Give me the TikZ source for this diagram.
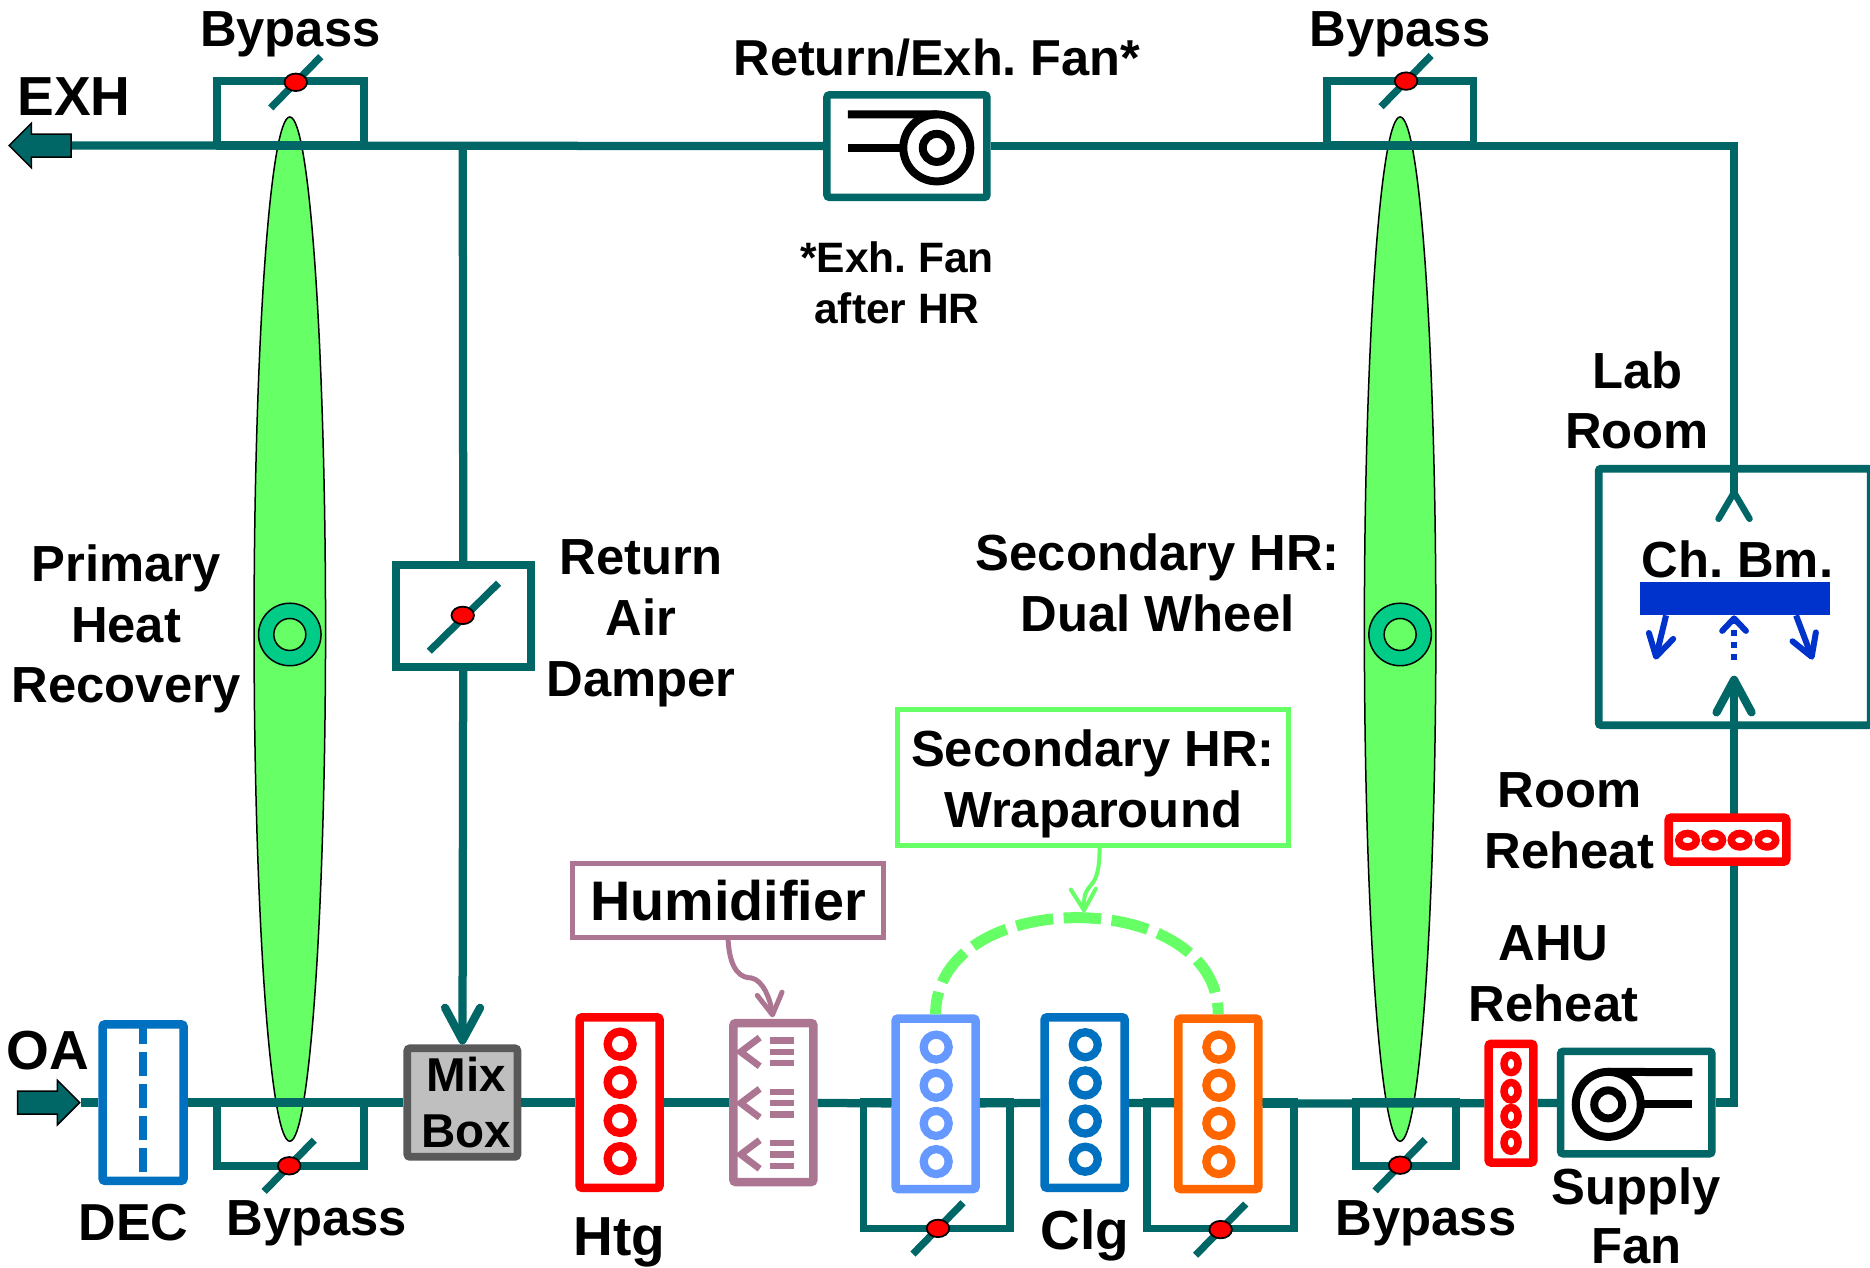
\documentclass[tikz,border=0pt]{standalone}
\usepackage{xcolor}
\usepackage{fontspec}
\setmainfont{Liberation Sans}
\usepackage{tikz}
\usetikzlibrary{shapes,arrows.meta,positioning}

\definecolor{ductteal}{HTML}{006666}
\definecolor{hrgreen}{HTML}{66FF66}
\definecolor{wheelgreen}{HTML}{00CC88}
\definecolor{coilblue}{HTML}{0070C0}
\definecolor{coillight}{HTML}{6699FF}
\definecolor{coilorange}{HTML}{FF6600}
\definecolor{humid}{HTML}{AC7592}
\definecolor{beamblue}{HTML}{0033CC}
\frenchspacing

\begin{document}
\begin{tikzpicture}[
    x=0.477pt, y=-0.477pt,
    barb/.tip={Straight Barb[round, length=13pt, width=14pt]},
    smallbarb/.tip={Straight Barb[round, length=8.5pt, width=10pt]},
    tag/.style={font=\bfseries\fontsize{20.3}{24.3}\selectfont, align=center, inner sep=0pt},
    duct/.style={draw=ductteal, line width=3.3pt},
    wing/.style={draw=ductteal, line width=2.6pt, line cap=round},
    flow/.style={single arrow, draw=black, fill=ductteal, line width=0.6pt, inner sep=4.3pt, minimum height=24.8pt, minimum width=17.2pt, single arrow head extend=4.3pt, single arrow tip angle=90, single arrow head indent=0pt},
    wheelhr/.style={ellipse, draw=black, fill=hrgreen, line width=0.6pt, inner sep=0pt, minimum width=28.6pt, minimum height=409.7pt},
    hub/.style={circle, draw=black, line width=0.6pt, inner sep=0pt},
    bypass/.style={rectangle, draw=ductteal, line width=3.1pt, inner sep=0pt, minimum width=58.7pt, minimum height=25.6pt},
    coil/.style={rectangle, draw, fill=white, line width=3.4pt, rounded corners=1pt, inner sep=0pt, minimum width=32pt, minimum height=68.2pt},
    fanbox/.style={rectangle, draw=ductteal, fill=white, line width=3pt, rounded corners=1pt, inner sep=0pt, minimum width=60.5pt, minimum height=41pt},
    wheel/.style={circle, draw=black, line width=3.2pt, inner sep=0pt, outer sep=0pt},
    fanbar/.style={draw=black, line width=3.2pt},
    valve/.style={ellipse, draw=black, fill=red, line width=0.7pt, inner sep=0pt, minimum width=9pt, minimum height=7pt},
    arm/.style={draw=ductteal, line width=2.9pt},
    callbox/.style={rectangle, draw, fill=white, line width=2pt, inner sep=0pt}
]
    \useasboundingbox (0,0) rectangle (1568,1062.4);

    % --- Heat recovery wheels (under the ducts) ---
    \node [wheelhr] (hr_left) at (243,527.5) {};
    \node [hub, fill=wheelgreen, minimum size=25pt] (hub_left) at (243,532) {};
    \node [hub, fill=hrgreen, minimum size=12.8pt] at (hub_left.center) {};
    \node [wheelhr] (hr_right) at (1174,527.5) {};
    \node [hub, fill=wheelgreen, minimum size=25pt] (hub_right) at (1174,532) {};
    \node [hub, fill=hrgreen, minimum size=12.8pt] at (hub_right.center) {};

    % --- Bypass loops ---
    \node [bypass] (byp_tl) at (243.5,95) {};
    \node [bypass] (byp_tr) at (1174,95) {};
    \node [bypass] (byp_bl) at (243.5,951) {};
    \node [bypass, minimum width=40pt] (byp_br) at (1179,951) {};
    \node [bypass, minimum height=50.6pt] (byp_pre) at (785.5,977) {};
    \node [bypass, minimum height=50.6pt] (byp_post) at (1023.5,977) {};

    % --- Supply side, left to right ---
    \node [flow] (oa_arrow) at (36,924.5) {};
    \node [coil, draw=coilblue, minimum width=32.4pt, minimum height=62.6pt] (dec) at (120,924.5) {};
    \node [coil, draw=black!65, fill=black!25, line width=3.1pt, minimum width=44pt, minimum height=43.4pt] (mix) at (387.7,924.5) {};
    \node [coil, draw=red] (htg) at (519.5,924.5) {};
    \node [coil, draw=humid, minimum height=63.6pt] (hum) at (648.5,924.5) {};
    \node [coil, draw=coillight] (coil_pre) at (784.5,925.5) {};
    \node [coil, draw=coilblue] (clg) at (909.5,924.5) {};
    \node [coil, draw=coilorange] (coil_post) at (1021.5,925.5) {};
    \node [coil, draw=red, minimum width=17.9pt, minimum height=47.5pt] (ahu_rh) at (1267,925) {};
    \node [fanbox] (supply) at (1372,924.5) {};
    \node [wheel, minimum size=26pt] (supply_wheel) at (1348.5,926) {};
    \node [wheel, minimum size=11.2pt] at (supply_wheel.center) {};

    % --- Return side ---
    \node [flow, shape border rotate=180] (exh_arrow) at (38.5,122) {};
    \node [fanbox, minimum width=64pt] (return_fan) at (760.5,122.5) {};
    \node [wheel, minimum size=26.8pt] (return_wheel) at (785.5,124) {};
    \node [wheel, minimum size=11.2pt] at (return_wheel.center) {};
    \node [bypass, fill=white, minimum width=54pt, minimum height=41pt] (return_damper) at (388.5,516.5) {};

    % --- Lab room ---
    \node [rectangle, draw=ductteal, line width=3.1pt, inner sep=0pt, minimum width=108.8pt, minimum height=102.6pt, rounded corners=1pt] (lab) at (1454.5,500.5) {};
    \node [rectangle, fill=beamblue, inner sep=0pt, minimum width=76.2pt, minimum height=13.4pt] (beam) at (1454.7,502) {};
    \coordinate (lab_in) at (1454,566.6);
    \coordinate (lab_out) at (1454,413);
    \coordinate (lab_out_l) at (1441,435);
    \coordinate (lab_out_r) at (1467,435);
    \coordinate (mix_tap) at (388,122);
    \coordinate (beam_l) at (1397,516);
    \coordinate (beam_r) at (1506,516);
    \coordinate (beam_m) at (1454,516);
    \coordinate (spot_l) at (1388,553);
    \coordinate (spot_r) at (1520,553);
    \coordinate (spot_m) at (1454,553);

    % Paths
    \path [duct] (oa_arrow) -- (dec);
    \path [duct] (dec) -- (mix);
    \path [duct] (mix) -- (htg);
    \path [duct] (htg) -- (hum);
    \path [duct] (hum) -- (coil_pre);
    \path [duct] (coil_pre) -- (clg);
    \path [duct] (clg) -- (coil_post);
    \path [duct] (coil_post) -- (ahu_rh);
    \path [duct] (ahu_rh) -- (supply);
    \path [duct, -{barb}] (supply) -| (lab_in);
    \path [duct] (return_fan) -| (lab_out);
    \path [wing] (lab_out_l) -- (lab_out) -- (lab_out_r);
    \path [duct] (return_fan) -- (exh_arrow);
    \path [duct] (mix_tap) -- (return_damper);
    \path [duct, -{barb}] (return_damper) -- (mix);
    \path [draw=beamblue, line width=2.4pt, -{smallbarb}] (beam_l) -- (spot_l);
    \path [draw=beamblue, line width=2.4pt, -{smallbarb}] (beam_r) -- (spot_r);
    \path [draw=beamblue, line width=2.4pt, dash pattern=on 2.4pt off 2.4pt, -{Straight Barb[round, length=5pt, width=9.5pt]}] (spot_m) -- (beam_m);
    \node [coil, draw=red, minimum width=47pt, minimum height=17.6pt] (room_rh) at (1448.5,704) {};

    % Coil tubes
    \foreach \x/\y/\c in {520/875.5/red, 785/878/coillight, 910/876/coilblue, 1022/878/coilorange} {
        \foreach \k in {0,1,2,3}
            \draw [line width=3.3pt, draw=\c] (\x,\y+32*\k) circle (5pt);
    }
    \foreach \y in {892,915,936,958}
        \draw [line width=3pt, draw=red] (1267,\y) ellipse (2.8pt and 3.5pt);
    \foreach \x in {1415,1437,1459,1481.6}
        \draw [line width=3pt, draw=red] (\x,704.5) ellipse (3.5pt and 2.7pt);

    % Humidifier nozzles
    \foreach \y in {882,925,968} {
        \draw [draw=humid, line width=2.7pt] (637,\y-12) -- (621,\y) -- (637,\y+12);
        \foreach \d in {-9.5,0,9.5}
            \draw [draw=humid, line width=2.6pt] (645.5,\y+\d) -- (666,\y+\d);
    }

    % DEC pad
    \coordinate (dec_end) at (120,984.4);
    \path [draw=coilblue, line width=3.2pt, dash pattern=on 9.6pt off 3.2pt] (dec.north) -- (dec_end);

    % Fan blades
    \coordinate (return_top) at (711,96);
    \coordinate (return_low) at (711,124);
    \coordinate (supply_top) at (1419,899);
    \coordinate (supply_low) at (1419,926);
    \path [fanbar] (return_top) -- (return_wheel.north);
    \path [fanbar] (return_low) -- (return_wheel);
    \path [fanbar] (supply_top) -- (supply_wheel.north);
    \path [fanbar] (supply_low) -- (supply_wheel);

    % Dampers
    \path [arm] (360,546) -- (418,489);
    \node [valve] (valve_return) at (388,516) {};
    \foreach \x/\y in {248/69, 1179/68, 242.5/977.5, 1174/977, 786.5/1030, 1023.5/1031} {
        \path [arm] (\x-21,\y+21.5) -- (\x+21,\y-21.5);
        \node [valve] (valve_\x) at (\x,\y) {};
    }

    % Wraparound and humidifier callouts
    \node [callbox, draw=hrgreen, minimum width=156.5pt, minimum height=54.4pt] (wrap_box) at (916.5,652) {};
    \node [callbox, draw=humid, minimum width=124.5pt, minimum height=29.6pt, font=\bfseries\fontsize{22.3}{26}\selectfont] (hum_box) at (610.5,755) {Humidifier};
    \coordinate (wrap_tip) at (909,765);
    \coordinate (hum_tip) at (648,853);
    \coordinate (wrap_from) at (922,711);
    \coordinate (hum_from) at (610.5,788);
    \coordinate (hum_mid) at (630,820);
    \path [draw=hrgreen, line width=4.4pt, dash pattern=on 15pt off 4.2pt, dash phase=6pt] (coil_pre.north) .. controls +(0,-108) and +(0,-108) .. (coil_post.north);
    \path [draw=hrgreen, line width=1.6pt, -{smallbarb}] (wrap_from) .. controls (922,752) and (908,735) .. (wrap_tip);
    \path [draw=humid, line width=2pt, -{smallbarb}] (hum_from) .. controls (612,815) and (622,820) .. (hum_mid) .. controls (640,822) and (646,838) .. (hum_tip);

    % Labels
    \node [tag, above=8pt of byp_tl] (lbl_byp_tl) {Bypass};
    \node [tag, above=8pt of byp_tr] (lbl_byp_tr) {Bypass};
    \node [tag, below=12pt of byp_bl, xshift=10.5pt] (lbl_byp_bl) {Bypass};
    \node [tag, below=12pt of byp_br, xshift=8pt] (lbl_byp_br) {Bypass};
    \node [tag, font=\bfseries\fontsize{22}{26}\selectfont] (lbl_exh) at (62,81) {EXH};
    \node [tag, font=\bfseries\fontsize{22}{26}\selectfont] (lbl_oa) at (40,881) {OA};
    \node [tag, font=\bfseries\fontsize{20.8}{25}\selectfont, below=7.6pt of dec, xshift=-3.8pt] (lbl_dec) {DEC};
    \node [tag, font=\bfseries\fontsize{22}{26}\selectfont, below=10pt of htg] (lbl_htg) {Htg};
    \node [tag, font=\bfseries\fontsize{22}{26}\selectfont, below=7pt of clg] (lbl_clg) {Clg};
    \node [tag, font=\bfseries\fontsize{20.3}{23.6}\selectfont, below=4pt of supply] (lbl_supply) {Supply\\Fan};
    \node [tag, font=\bfseries\fontsize{20.2}{25}\selectfont, above=5.5pt of return_fan, xshift=12pt] (lbl_return) {Return/Exh. Fan*};
    \node [tag, font=\bfseries\fontsize{17}{20.5}\selectfont, below=16pt of return_fan, xshift=-4pt] (lbl_note) {*Exh. Fan\\after HR};
    \node [tag, right=4.6pt of return_damper, yshift=-3pt] (lbl_damper) {Return\\Air\\Damper};
    \node [tag, left=5pt of hr_left] (lbl_primary) {Primary\\Heat\\Recovery};
    \node [tag, left=9.4pt of hr_right, yshift=18.4pt] (lbl_dual) {Secondary HR:\\Dual Wheel};
    \node [tag, above=6pt of lab, xshift=-39pt] (lbl_lab) {Lab\\Room};
    \node [tag, above=1pt of beam, xshift=1pt] (lbl_beam) {Ch. Bm.};
    \node [tag, left=4pt of room_rh, yshift=7.6pt] (lbl_room_rh) {Room\\Reheat};
    \node [tag, above=7pt of ahu_rh, xshift=17pt] (lbl_ahu_rh) {AHU\\Reheat};
    \node [tag, yshift=-2.5pt] (lbl_wrap) at (wrap_box.center) {Secondary HR:\\Wraparound};
    \node [tag, font=\bfseries\fontsize{19}{22.5}\selectfont, xshift=1.5pt] (lbl_mix) at (mix.center) {Mix\\Box};

\end{tikzpicture}
\end{document}
